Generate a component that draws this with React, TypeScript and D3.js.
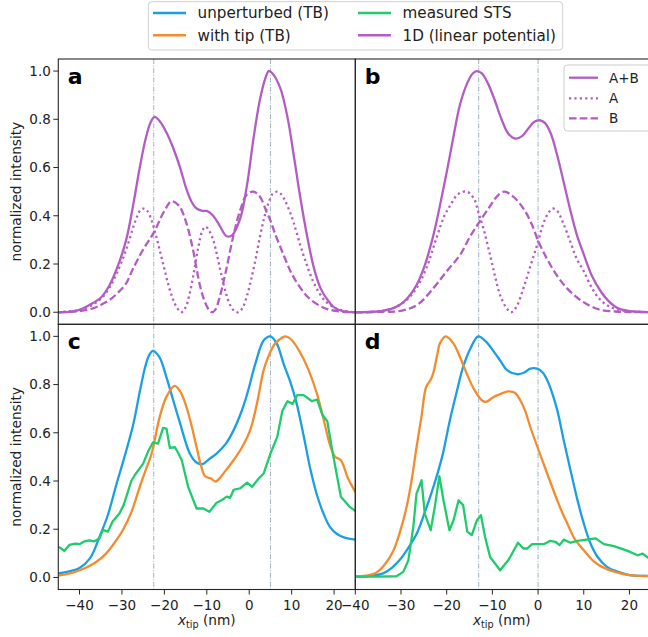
import React from "react";
import * as d3 from "d3";

type P = [number, number];

// ---------- Data ----------
const xTicksLeft = [-40, -30, -20, -10, 0, 10, 20];
const xTicksRight = [-40, -30, -20, -10, 0, 10, 20];
const yTicks = [0, 0.2, 0.4, 0.6, 0.8, 1.0];

const vlinesAC = [-22.5, 5];
const vlinesBD = [-13, 0];

// panel a (1D model, linear potential)
const aSum: P[] = [
  [-45, 0], [-42, 0.003], [-40, 0.01], [-37.7, 0.03], [-35, 0.06], [-33, 0.11], [-31, 0.19], [-29, 0.3],
  [-27.4, 0.44], [-25.8, 0.6], [-24.4, 0.72], [-23.3, 0.785], [-22.3, 0.81], [-21, 0.79], [-19.5, 0.745],
  [-17.9, 0.68], [-16.3, 0.6], [-14.8, 0.51], [-13.5, 0.455], [-12.4, 0.43], [-11, 0.42], [-10, 0.42],
  [-8.5, 0.4], [-7, 0.36], [-5.3, 0.315], [-4, 0.32], [-2.1, 0.39], [-0.5, 0.53], [1, 0.72], [2.5, 0.88],
  [3.8, 0.97], [4.6, 1.0], [5.5, 0.99], [7.3, 0.93], [9, 0.81], [10.5, 0.65], [12, 0.48], [13.7, 0.31],
  [15.3, 0.18], [16.8, 0.1], [18.5, 0.05], [20, 0.02], [22, 0.005], [25, 0],
];
const aA: P[] = [
  [-45, 0], [-40, 0.01], [-37, 0.03], [-35, 0.055], [-33, 0.1], [-31, 0.17], [-29, 0.26], [-27, 0.37],
  [-25.8, 0.42], [-25, 0.43], [-24, 0.42], [-23, 0.38], [-22, 0.32], [-21, 0.25], [-20, 0.18], [-19, 0.11],
  [-18, 0.055], [-17, 0.018], [-16, 0.0], [-15, 0.02], [-14, 0.08], [-13, 0.17], [-12, 0.27], [-11, 0.34],
  [-10.3, 0.355], [-9.5, 0.34], [-8.5, 0.3], [-7.5, 0.23], [-6.5, 0.15], [-5.5, 0.08], [-4.5, 0.03],
  [-3.5, 0.005], [-2.5, 0], [-1.5, 0.02], [-0.5, 0.07], [0.5, 0.14], [1.5, 0.22], [2.5, 0.31], [3.5, 0.39],
  [4.5, 0.45], [5.5, 0.49], [6.6, 0.5], [7.5, 0.49], [8.5, 0.46], [9.5, 0.42], [10.5, 0.37], [12, 0.28],
  [13.5, 0.2], [15, 0.13], [16.5, 0.08], [18, 0.045], [20, 0.02], [22, 0.007], [25, 0],
];
const aB: P[] = [
  [-45, 0], [-40, 0.005], [-37, 0.015], [-35, 0.03], [-33, 0.05], [-31, 0.08], [-29, 0.12], [-27.4, 0.18],
  [-25, 0.26], [-22.5, 0.33], [-20, 0.42], [-18.3, 0.46], [-16.5, 0.44], [-15, 0.38], [-13.5, 0.28],
  [-11.6, 0.11], [-10.5, 0.045], [-9.5, 0.01], [-8.8, 0], [-8, 0.01], [-7, 0.06], [-5.5, 0.17], [-3.7, 0.32],
  [-2, 0.43], [-0.5, 0.49], [1, 0.5], [2.5, 0.48], [4, 0.42], [5, 0.38], [6, 0.33], [8.1, 0.237],
  [10, 0.16], [12.1, 0.1], [14, 0.06], [16.8, 0.025], [19, 0.01], [22, 0.002], [25, 0],
];

// panel b
const bSum: P[] = [
  [-40, 0], [-36, 0.002], [-34, 0.006], [-32, 0.015], [-30.3, 0.03], [-28.5, 0.06], [-26.6, 0.113],
  [-24.7, 0.2], [-22.9, 0.32], [-21.5, 0.44], [-20, 0.58], [-18.5, 0.73], [-17.1, 0.86], [-15.5, 0.95],
  [-14.3, 0.99], [-13.4, 1.0], [-12.3, 0.99], [-11, 0.95], [-9.5, 0.88], [-8, 0.8], [-6.5, 0.74],
  [-5, 0.72], [-3.5, 0.73], [-2, 0.765], [-0.8, 0.79], [0.35, 0.796], [1.5, 0.785], [2.8, 0.74],
  [4.2, 0.65], [5.6, 0.54], [7.1, 0.42], [8.5, 0.32], [10, 0.24], [11.8, 0.15], [13.7, 0.087],
  [15.5, 0.045], [17.4, 0.017], [20, 0.005], [22, 0.002], [25, 0],
];
const bA: P[] = [
  [-40, 0], [-35, 0.003], [-32, 0.015], [-30.3, 0.03], [-28.5, 0.055], [-26.6, 0.1], [-24.5, 0.18],
  [-22.2, 0.31], [-20.5, 0.4], [-19.3, 0.44], [-17.5, 0.49], [-15.6, 0.5], [-14, 0.47], [-13, 0.41],
  [-12, 0.35], [-10.5, 0.237], [-9.3, 0.14], [-8.3, 0.07], [-7, 0.02], [-5.9, 0], [-4.8, 0.02],
  [-3.2, 0.1], [-1.7, 0.19], [-0.2, 0.28], [1.2, 0.37], [2.2, 0.41], [3.2, 0.43], [4.2, 0.42],
  [5.5, 0.37], [7.1, 0.29], [8.5, 0.22], [10, 0.17], [11.8, 0.1], [13.7, 0.05], [16, 0.02],
  [19, 0.006], [22, 0.002], [25, 0],
];
const bB: P[] = [
  [-40, 0], [-34, 0.002], [-30.3, 0.005], [-26.5, 0.03], [-22.9, 0.1], [-20, 0.17], [-17.1, 0.237],
  [-15, 0.31], [-13, 0.37], [-10.5, 0.44], [-9, 0.48], [-7.4, 0.5], [-5.5, 0.48], [-3.2, 0.43],
  [-1.5, 0.37], [0.15, 0.29], [2, 0.22], [4.2, 0.15], [6.3, 0.1], [8.6, 0.06], [11, 0.03],
  [13.7, 0.01], [17, 0.003], [20, 0.001], [25, 0],
];

// panel c
const cUnperturbed: P[] = [
  [-45, 0.017], [-42.5, 0.025], [-40, 0.039], [-37.5, 0.08], [-35.3, 0.168], [-33.3, 0.26], [-31.4, 0.38],
  [-29.4, 0.5], [-27.4, 0.63], [-25.8, 0.77], [-24.5, 0.875], [-23.5, 0.925], [-22.7, 0.94], [-21.2, 0.915],
  [-19.5, 0.83], [-18, 0.74], [-16.4, 0.645], [-14, 0.514], [-12.5, 0.478], [-11, 0.47], [-9.5, 0.49],
  [-7.7, 0.514], [-5.5, 0.555], [-3.7, 0.61], [-2, 0.68], [-0.5, 0.76], [1.5, 0.89], [3.4, 0.983],
  [5, 1.0], [6.5, 0.97], [8.1, 0.886], [9.7, 0.81], [11.2, 0.72], [12.8, 0.59], [14.4, 0.45],
  [16, 0.34], [17.5, 0.265], [19, 0.21], [20.7, 0.18], [22.5, 0.165], [25, 0.157],
];
const cWithTip: P[] = [
  [-45, 0.008], [-42, 0.018], [-38.5, 0.04], [-36, 0.065], [-33.7, 0.1], [-31.7, 0.145], [-29.8, 0.196],
  [-27.8, 0.27], [-25.8, 0.376], [-24.3, 0.45], [-23, 0.514], [-21.1, 0.666], [-19.5, 0.75],
  [-17.6, 0.795], [-16.2, 0.77], [-14.8, 0.707], [-13.6, 0.63], [-12.4, 0.54], [-11.3, 0.46],
  [-10.4, 0.42], [-9, 0.41], [-7.9, 0.398], [-5.7, 0.44], [-3.7, 0.486], [-1.7, 0.54], [0.2, 0.61],
  [1.8, 0.72], [3.4, 0.86], [4.6, 0.92], [5.8, 0.963], [7, 0.985], [8.5, 1.0], [10, 0.985],
  [12.1, 0.93], [14, 0.86], [16, 0.76], [17.6, 0.65], [19.2, 0.54], [20.3, 0.5], [21.6, 0.486],
  [23.3, 0.41], [25, 0.355],
];
const cMeasured: P[] = [
  [-45, 0.127], [-44.3, 0.12], [-43.6, 0.11], [-42.4, 0.135], [-41, 0.14], [-40, 0.138], [-38.8, 0.15],
  [-37.7, 0.154], [-36.5, 0.15], [-35.3, 0.162], [-34.5, 0.197], [-33.3, 0.19], [-32.2, 0.232],
  [-30.6, 0.265], [-29.6, 0.3], [-28.6, 0.355], [-27.8, 0.4], [-27, 0.424], [-25, 0.472], [-23.9, 0.52],
  [-22.7, 0.56], [-21.5, 0.555], [-20.3, 0.62], [-19.5, 0.617], [-18.7, 0.537], [-17.5, 0.54],
  [-16.7, 0.515], [-15.9, 0.486], [-14.4, 0.376], [-12.4, 0.286], [-10.8, 0.286], [-9.4, 0.272],
  [-7.7, 0.31], [-6.5, 0.32], [-5.3, 0.335], [-4.5, 0.33], [-3.7, 0.363], [-2.1, 0.37], [-0.5, 0.393],
  [0.7, 0.376], [2.2, 0.41], [3.4, 0.431], [5, 0.514], [6.6, 0.583], [7.8, 0.69], [9, 0.731],
  [10.2, 0.72], [11.3, 0.756], [12.8, 0.756], [14.8, 0.731], [16, 0.738], [17.2, 0.676], [18.4, 0.648],
  [19.6, 0.524], [21.6, 0.335], [23.6, 0.294], [25, 0.276],
];

// panel d
const dUnperturbed: P[] = [
  [-40, 0.003], [-36, 0.008], [-33.9, 0.017], [-32, 0.04], [-30.3, 0.072], [-28.5, 0.12], [-26.6, 0.18],
  [-24.8, 0.27], [-22.9, 0.376], [-21, 0.5], [-19.3, 0.652], [-17.8, 0.77], [-16.4, 0.873],
  [-14.8, 0.95], [-13.1, 1.0], [-11.5, 0.98], [-9.8, 0.94], [-8.3, 0.9], [-6.8, 0.86], [-4.6, 0.843],
  [-3, 0.85], [-1.7, 0.866], [-0.2, 0.866], [1, 0.85], [2, 0.818], [3, 0.77], [4.2, 0.694],
  [5.6, 0.57], [7.1, 0.445], [8.5, 0.33], [10, 0.224], [11.5, 0.14], [13, 0.086], [15, 0.045],
  [17.4, 0.024], [20, 0.01], [24.2, 0.006], [25, 0.005],
];
const dWithTip: P[] = [
  [-40, 0.003], [-37, 0.01], [-35.4, 0.02], [-33.5, 0.055], [-31.7, 0.11], [-30.2, 0.19], [-28.8, 0.29],
  [-27.7, 0.4], [-26.6, 0.54], [-25.5, 0.67], [-24.5, 0.79], [-23.5, 0.82], [-22.9, 0.85], [-22, 0.93],
  [-21.5, 0.97], [-20.2, 1.0], [-18.5, 0.97], [-17, 0.91], [-15.6, 0.845], [-14, 0.78], [-12.3, 0.735],
  [-11.4, 0.728], [-10, 0.745], [-9, 0.755], [-6.5, 0.772], [-5, 0.765], [-3.9, 0.735], [-2.8, 0.69],
  [-1.7, 0.624], [1.2, 0.472], [4.2, 0.32], [5.5, 0.26], [6.4, 0.224], [8, 0.16], [10, 0.113],
  [12, 0.07], [13.7, 0.047], [17.4, 0.02], [20, 0.01], [24.2, 0.005], [25, 0.004],
];
const dMeasured: P[] = [
  [-40, 0.003], [-35, 0.003], [-31, 0.005], [-29.5, 0.023], [-28.4, 0.07], [-27.3, 0.21], [-26.6, 0.348],
  [-25.5, 0.403], [-24.8, 0.265], [-23.5, 0.196], [-22.6, 0.293], [-21.6, 0.42], [-20.7, 0.32],
  [-19.4, 0.196], [-18.5, 0.237], [-17.4, 0.32], [-16.4, 0.3], [-15.5, 0.19], [-14.5, 0.176],
  [-13.4, 0.237], [-12.5, 0.258], [-11.6, 0.168], [-10.5, 0.085], [-8.3, 0.03], [-6.5, 0.072],
  [-4.4, 0.144], [-3.2, 0.12], [-2.4, 0.12], [-1.3, 0.138], [1.2, 0.138], [2.7, 0.152], [3.8, 0.148],
  [4.7, 0.134], [5.6, 0.157], [7.1, 0.144], [8.6, 0.152], [12.6, 0.162], [14.4, 0.138], [16.6, 0.13],
  [19.6, 0.11], [21.8, 0.092], [22.9, 0.099], [24.2, 0.08], [25, 0.075],
];

const legendTop = ["unperturbed (TB)", "with tip (TB)", "measured STS", "1D (linear potential)"];
const legendB = ["A+B", "A", "B"];

// ---------- Styles ----------
const BLUE = "#1b9fe3";
const ORANGE = "#f28c2e";
const GREEN = "#1fcc6b";
const PURPLE = "#b25cc4";
const VCOL = "#9fb3c0";
const SPINE = "#262626";
const FONT = "DejaVu Sans, sans-serif";
const LW = 2.3;
const DOT = "2.2 3.2";
const DASH = "7.5 3.3";

const LX: [number, number] = [58.3, 355.3];
const RX: [number, number] = [355.3, 652.3];
const TY: [number, number] = [59, 324.3];
const BY: [number, number] = [324.3, 589.5];

type Series = { data: P[]; color: string; dash?: string; curve: d3.CurveFactory };
type PanelDef = {
  id: string;
  label: string;
  xr: [number, number];
  yr: [number, number];
  xd: [number, number];
  vlines: number[];
  series: Series[];
  yTicks: boolean;
  xTicks: number[] | null;
};

const smooth = d3.curveCatmullRom.alpha(0.5);
const lin = d3.curveLinear;

const panels: PanelDef[] = [
  {
    id: "a", label: "a", xr: LX, yr: TY, xd: [-45, 25], vlines: vlinesAC, yTicks: true, xTicks: null,
    series: [
      { data: aA, color: PURPLE, dash: DOT, curve: smooth },
      { data: aB, color: PURPLE, dash: DASH, curve: smooth },
      { data: aSum, color: PURPLE, curve: smooth },
    ],
  },
  {
    id: "b", label: "b", xr: RX, yr: TY, xd: [-40, 25], vlines: vlinesBD, yTicks: false, xTicks: null,
    series: [
      { data: bA, color: PURPLE, dash: DOT, curve: smooth },
      { data: bB, color: PURPLE, dash: DASH, curve: smooth },
      { data: bSum, color: PURPLE, curve: smooth },
    ],
  },
  {
    id: "c", label: "c", xr: LX, yr: BY, xd: [-45, 25], vlines: vlinesAC, yTicks: true, xTicks: xTicksLeft,
    series: [
      { data: cUnperturbed, color: BLUE, curve: smooth },
      { data: cWithTip, color: ORANGE, curve: smooth },
      { data: cMeasured, color: GREEN, curve: lin },
    ],
  },
  {
    id: "d", label: "d", xr: RX, yr: BY, xd: [-40, 25], vlines: vlinesBD, yTicks: false, xTicks: xTicksRight,
    series: [
      { data: dUnperturbed, color: BLUE, curve: smooth },
      { data: dWithTip, color: ORANGE, curve: smooth },
      { data: dMeasured, color: GREEN, curve: lin },
    ],
  },
];

function fmt(v: number) {
  return v.toFixed(1);
}
function fmtX(v: number) {
  return v < 0 ? "\u2212" + Math.abs(v) : String(v);
}

function Panel({ p }: { p: PanelDef }) {
  const x = d3.scaleLinear().domain(p.xd).range(p.xr);
  const y = d3.scaleLinear().domain([-0.05, 1.05]).range([p.yr[1], p.yr[0]]);
  const line = (s: Series) =>
    d3.line<P>().x((d) => x(d[0])).y((d) => y(d[1])).curve(s.curve)(s.data) || "";
  const clipId = "clip-" + p.id;
  return (
    <g>
      <defs>
        <clipPath id={clipId}>
          <rect x={p.xr[0]} y={p.yr[0]} width={p.xr[1] - p.xr[0]} height={p.yr[1] - p.yr[0]} />
        </clipPath>
      </defs>
      <g clipPath={`url(#${clipId})`}>
        {p.vlines.map((v) => (
          <line key={v} x1={x(v)} x2={x(v)} y1={p.yr[0]} y2={p.yr[1]} stroke={VCOL} strokeWidth={1}
            strokeDasharray="5 1.6 1 1.6" />
        ))}
        {p.series.map((s, i) => (
          <path key={i} d={line(s)} fill="none" stroke={s.color} strokeWidth={LW}
            strokeDasharray={s.dash} strokeLinejoin="round" strokeLinecap={s.dash ? "butt" : "round"} />
        ))}
      </g>
      <rect x={p.xr[0]} y={p.yr[0]} width={p.xr[1] - p.xr[0]} height={p.yr[1] - p.yr[0]} fill="none"
        stroke={SPINE} strokeWidth={1.1} />
      {p.yTicks &&
        yTicks.map((t) => (
          <g key={t}>
            <line x1={p.xr[0] - 5} x2={p.xr[0]} y1={y(t)} y2={y(t)} stroke={SPINE} strokeWidth={1} />
            <text x={p.xr[0] - 7.5} y={y(t) + 4.8} textAnchor="end" fontSize={13.5} fontFamily={FONT} fill="#222">
              {fmt(t)}
            </text>
          </g>
        ))}
      {p.xTicks &&
        p.xTicks.map((t) => (
          <g key={t}>
            <line x1={x(t)} x2={x(t)} y1={p.yr[1]} y2={p.yr[1] + 5} stroke={SPINE} strokeWidth={1} />
            <text x={x(t)} y={p.yr[1] + 20.2} textAnchor="middle" fontSize={13.5} fontFamily={FONT} fill="#222">
              {fmtX(t)}
            </text>
          </g>
        ))}
      <text x={p.xr[0] + 9.5} y={p.yr[0] + 25} fontSize={22} fontWeight="bold" fontFamily={FONT} fill="#000">
        {p.label}
      </text>
    </g>
  );
}

export default function App() {
  const topLegendItems = [
    { label: legendTop[0], color: BLUE, lx: 153, ty: 13 },
    { label: legendTop[1], color: ORANGE, lx: 153, ty: 35.3 },
    { label: legendTop[2], color: GREEN, lx: 358, ty: 13 },
    { label: legendTop[3], color: PURPLE, lx: 358, ty: 35.3 },
  ];
  const bLegendItems = [
    { label: legendB[0], dash: undefined as string | undefined, ty: 77.7 },
    { label: legendB[1], dash: DOT, ty: 98.3 },
    { label: legendB[2], dash: DASH, ty: 118.3 },
  ];
  return (
    <div style={{ position: "fixed", left: 0, top: 0 }}>
      <svg width={648} height={637} viewBox="0 0 648 637" style={{ display: "block", background: "#fff" }}>
        <rect x={0} y={0} width={648} height={637} fill="#fff" />
        {panels.map((p) => (
          <Panel key={p.id} p={p} />
        ))}
        {[TY, BY].map((r, i) => (
          <text key={i} transform={`translate(15.5, ${(r[0] + r[1]) / 2}) rotate(-90)`} textAnchor="middle"
            dominantBaseline="central" fontSize={13.7} fontFamily={FONT} fill="#222">
            normalized intensity
          </text>
        ))}
        {[LX, RX].map((r, i) => (
          <text key={i} x={(r[0] + r[1]) / 2 - (i === 1 ? 2 : 0)} y={625} textAnchor="middle" fontSize={13.7}
            fontFamily={FONT} fill="#222">
            <tspan fontStyle="italic">x</tspan>
            <tspan fontSize={9.6} dy={3}>tip</tspan>
            <tspan dy={-3}> (nm)</tspan>
          </text>
        ))}
        <rect x={148.3} y={1.7} width={414.4} height={48.3} rx={3.5} fill="#fff" fillOpacity={0.8}
          stroke="#d0d0d0" strokeWidth={1} />
        {topLegendItems.map((it) => (
          <g key={it.label}>
            <line x1={it.lx} x2={it.lx + 33} y1={it.ty} y2={it.ty} stroke={it.color} strokeWidth={LW + 0.3} />
            <text x={it.lx + 44.5} y={it.ty + 5.4} fontSize={15.2} fontFamily={FONT} fill="#222">
              {it.label}
            </text>
          </g>
        ))}
        <rect x={564} y={65} width={90} height={66} rx={3.5} fill="#fff" fillOpacity={0.8} stroke="#cccccc"
          strokeWidth={1} />
        {bLegendItems.map((it) => (
          <g key={it.label}>
            <line x1={569} x2={598} y1={it.ty} y2={it.ty} stroke={PURPLE} strokeWidth={LW}
              strokeDasharray={it.dash} />
            <text x={609} y={it.ty + 4.8} fontSize={13.5} fontFamily={FONT} fill="#222">
              {it.label}
            </text>
          </g>
        ))}
      </svg>
    </div>
  );
}
